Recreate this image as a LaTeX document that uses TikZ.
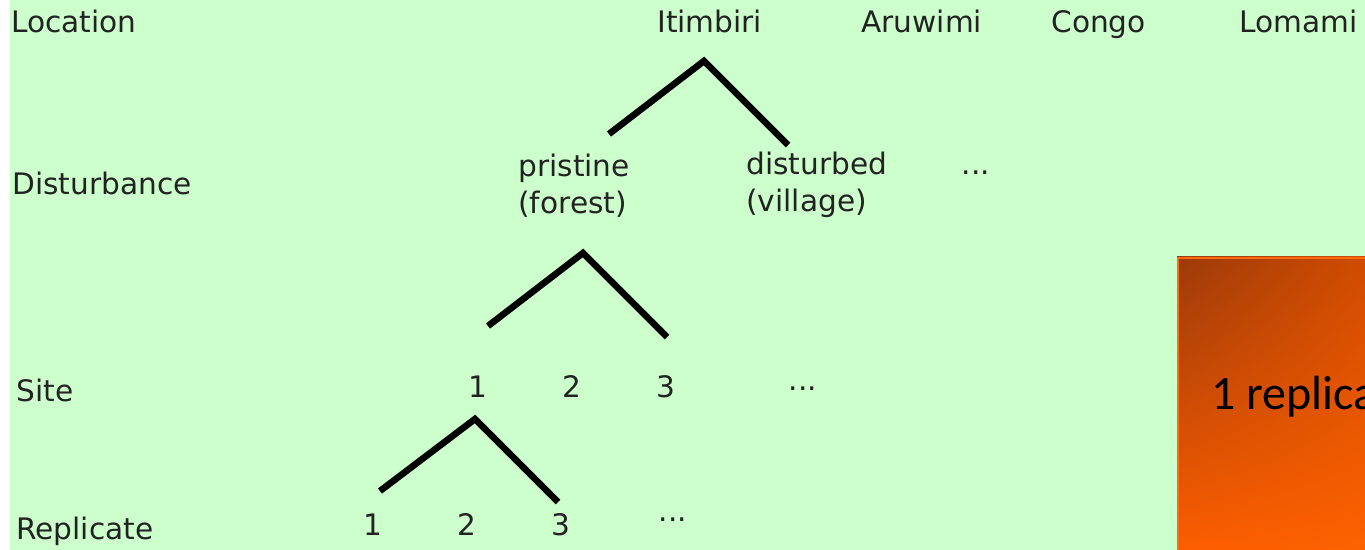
\documentclass[tikz,border=0pt]{standalone}
\usepackage{fontspec}
\usetikzlibrary{shadings}
\setmainfont{DejaVu Sans}
\newfontfamily\calibrifont{Carlito}
\definecolor{paper}{HTML}{CCFFCC}
\definecolor{ink}{HTML}{222222}
\definecolor{boxedge}{HTML}{FF6A12}
\definecolor{boxUL}{RGB}{156,58,10}
\definecolor{boxUR}{RGB}{210,76,0}
\definecolor{boxLL}{RGB}{255,94,0}
\definecolor{boxLR}{RGB}{255,98,0}
% two stacked lines, baselines 18.5pt apart, aligned on the first baseline
\newcommand{\twolines}[2]{\vtop{\baselineskip=18.5pt\lineskiplimit=-100pt
  \hbox{#1}\hbox{#2}}}
\begin{document}
\begin{tikzpicture}[x=0.5pt,y=-0.5pt,
  lbl/.style={anchor=base west, inner sep=0pt, text=ink,
              font=\fontsize{14.8}{18}\selectfont},
  num/.style={anchor=base, inner sep=0pt, text=ink,
              font=\fontsize{14.8}{18}\selectfont},
  branch/.style={line width=3.3pt, line join=miter, line cap=butt, black}]
% canvas
\clip (0,0) rectangle (1365,550);
\fill[white] (0,0) rectangle (1365,550);
\fill[paper] (10,0) rectangle (1365,550);

% level names
\node[lbl] (loc)  at (11,33)  {Location};
\node[lbl] (dist) at (12,195) {Disturbance};
\node[lbl] (site) at (16,401) {Site};
\node[lbl] (repl) at (16,539) {Replicate};

% locations
\node[lbl] (itim)   at (657,33)  {Itimbiri};
\node[lbl] (aru)    at (861,33)  {Aruwimi};
\node[lbl] (congo)  at (1051,33) {Congo};
\node[lbl] (lomami) at (1239,33) {Lomami};

% disturbance classes
\node[lbl] (pris) at (518,177) {\twolines{pristine}{(forest)}};
\node[lbl] (dstb) at (746,175) {\twolines{disturbed}{(village)}};
\node[num] (dmore) at (976,175) {...};

% sites
\node[num] (s1) at (478,398) {1};
\node[num] (s2) at (572,398) {2};
\node[num] (s3) at (666,398) {3};
\node[num] (smore) at (803,391) {...};

% replicates
\node[num] (r1) at (373,535) {1};
\node[num] (r2) at (467,535) {2};
\node[num] (r3) at (561,535) {3};
\node[num] (rmore) at (673,521) {...};

% branching: location -> disturbance
\coordinate (aTop) at (704,61);
\coordinate (aL)   at (609,134);
\coordinate (aR)   at (788,145);
\draw[branch] (aL) -- (aTop) -- (aR);

% branching: disturbance -> site
\coordinate (bTop) at (583,253);
\coordinate (bL)   at (488,326);
\coordinate (bR)   at (667,337);
\draw[branch] (bL) -- (bTop) -- (bR);

% branching: site -> replicate
\coordinate (cTop) at (475,419);
\coordinate (cL)   at (380,491);
\coordinate (cR)   at (558,502);
\draw[branch] (cL) -- (cTop) -- (cR);

% replicate callout
\shade[upper left=boxUL, upper right=boxUR,
       lower left=boxLL, lower right=boxLR]
  (1177,257) rectangle (1372,556);
\draw[boxedge, line width=1.2pt] (1178,560) -- (1178,258) -- (1372,258);
\node[anchor=base west, inner sep=0pt, text=black,
      font=\calibrifont\fontsize{24}{28}\selectfont] (onerep) at (1211,410) {1 replica};
\end{tikzpicture}
\end{document}
